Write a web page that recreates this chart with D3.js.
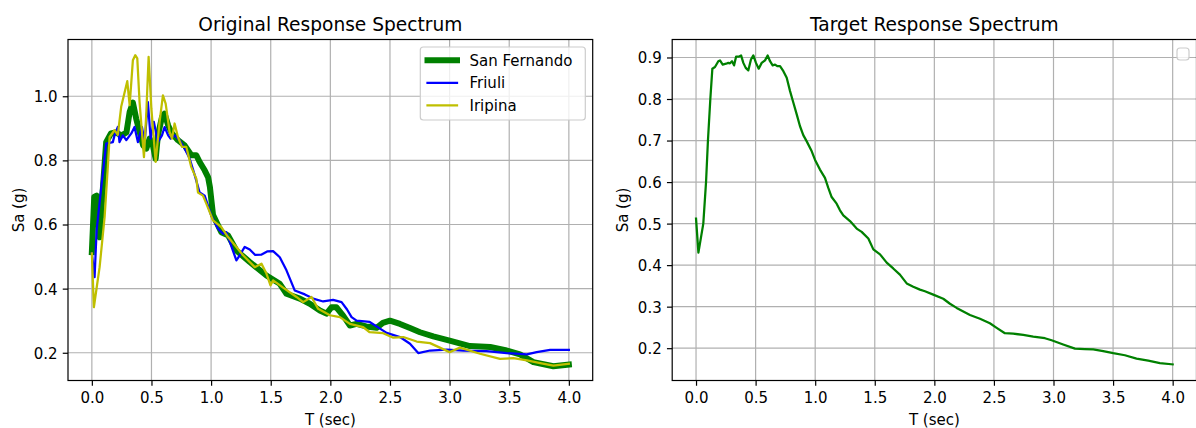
<!DOCTYPE html>
<html>
<head>
<meta charset="utf-8">
<script src="https://cdn.jsdelivr.net/npm/d3@7"></script>
<style>
  html, body { margin: 0; padding: 0; background: #ffffff; }
  svg { display: block; font-family: "DejaVu Sans", sans-serif; }
</style>
</head>
<body>
<svg id="chart" width="1196" height="428"></svg>
<script>
// ---------------- DATA ----------------
const xTicks = [0.0, 0.5, 1.0, 1.5, 2.0, 2.5, 3.0, 3.5, 4.0];
const yTicksLeft = [0.2, 0.4, 0.6, 0.8, 1.0];
const yTicksRight = [0.2, 0.3, 0.4, 0.5, 0.6, 0.7, 0.8, 0.9];
const seriesNames = ["San Fernando", "Friuli", "Iripina"];

// [T (sec), Sa (g)]
const sanFernando = [[0,0.514],[0.02,0.686],[0.04,0.69],[0.05,0.65],[0.065,0.56],[0.09,0.70],[0.12,0.857],[0.16,0.884],[0.2,0.887],[0.25,0.878],[0.29,0.887],[0.317,0.951],[0.344,0.98],[0.372,0.93],[0.40,0.889],[0.43,0.847],[0.457,0.837],[0.485,0.868],[0.512,0.847],[0.535,0.805],[0.554,0.878],[0.588,0.935],[0.61,0.946],[0.64,0.909],[0.672,0.884],[0.722,0.863],[0.778,0.847],[0.834,0.816],[0.876,0.816],[0.904,0.795],[0.946,0.769],[0.975,0.747],[0.99,0.717],[1.016,0.63],[1.086,0.576],[1.142,0.566],[1.212,0.519],[1.324,0.483],[1.464,0.441],[1.576,0.415],[1.632,0.384],[1.744,0.369],[1.828,0.353],[1.912,0.332],[1.968,0.322],[2.01,0.342],[2.05,0.342],[2.107,0.316],[2.164,0.285],[2.22,0.29],[2.30,0.282],[2.388,0.278],[2.44,0.293],[2.5,0.30],[2.584,0.29],[2.668,0.277],[2.752,0.264],[2.863,0.251],[3.0,0.238],[3.17,0.221],[3.34,0.218],[3.479,0.207],[3.59,0.195],[3.703,0.171],[3.87,0.158],[4.0,0.163]];

const friuli = [[0,0.51],[0.023,0.436],[0.04,0.582],[0.08,0.72],[0.12,0.852],[0.176,0.857],[0.19,0.878],[0.218,0.904],[0.232,0.857],[0.26,0.878],[0.289,0.863],[0.331,0.884],[0.358,0.904],[0.386,0.857],[0.42,0.904],[0.443,0.857],[0.47,0.982],[0.493,0.868],[0.52,0.92],[0.554,0.857],[0.588,0.878],[0.61,0.904],[0.64,0.878],[0.66,0.868],[0.694,0.878],[0.736,0.863],[0.778,0.837],[0.82,0.806],[0.862,0.755],[0.904,0.70],[0.946,0.69],[1.0,0.629],[1.058,0.587],[1.1,0.571],[1.128,0.576],[1.212,0.488],[1.24,0.504],[1.282,0.53],[1.324,0.522],[1.37,0.505],[1.42,0.506],[1.47,0.516],[1.52,0.517],[1.576,0.498],[1.632,0.457],[1.702,0.394],[1.786,0.382],[1.856,0.369],[1.94,0.36],[2.023,0.365],[2.094,0.358],[2.14,0.335],[2.178,0.311],[2.22,0.30],[2.33,0.296],[2.472,0.262],[2.584,0.249],[2.668,0.228],[2.737,0.199],[2.836,0.207],[2.976,0.21],[3.115,0.207],[3.31,0.205],[3.479,0.199],[3.648,0.195],[3.73,0.202],[3.843,0.209],[4.0,0.209]];

const iripina = [[0,0.51],[0.017,0.342],[0.065,0.467],[0.107,0.623],[0.134,0.78],[0.149,0.873],[0.19,0.894],[0.218,0.88],[0.246,0.967],[0.297,1.047],[0.317,0.972],[0.344,1.112],[0.364,1.128],[0.381,1.118],[0.40,0.982],[0.437,0.81],[0.457,0.951],[0.476,1.123],[0.499,0.962],[0.535,0.795],[0.568,0.92],[0.596,1.003],[0.619,0.977],[0.652,0.889],[0.672,0.868],[0.694,0.915],[0.722,0.873],[0.756,0.842],[0.792,0.842],[0.834,0.779],[0.876,0.743],[0.89,0.70],[0.932,0.69],[0.96,0.665],[1.016,0.613],[1.086,0.592],[1.142,0.561],[1.212,0.53],[1.268,0.504],[1.366,0.467],[1.422,0.478],[1.464,0.447],[1.498,0.41],[1.52,0.426],[1.604,0.403],[1.716,0.374],[1.772,0.358],[1.842,0.374],[1.898,0.337],[1.996,0.317],[2.08,0.311],[2.164,0.29],[2.275,0.28],[2.33,0.264],[2.443,0.261],[2.528,0.247],[2.612,0.249],[2.724,0.235],[2.836,0.23],[3.0,0.202],[3.087,0.216],[3.255,0.197],[3.423,0.181],[3.535,0.183],[3.648,0.176],[3.76,0.168],[3.87,0.16],[4.0,0.166]];

const target = [[0,0.512],[0.02,0.43],[0.061,0.5],[0.084,0.6],[0.10,0.7],[0.12,0.8],[0.137,0.873],[0.159,0.877],[0.187,0.891],[0.201,0.893],[0.224,0.883],[0.252,0.885],[0.271,0.887],[0.285,0.886],[0.302,0.891],[0.319,0.881],[0.336,0.902],[0.358,0.902],[0.378,0.905],[0.397,0.887],[0.417,0.875],[0.439,0.869],[0.461,0.895],[0.481,0.905],[0.503,0.887],[0.526,0.873],[0.551,0.887],[0.579,0.893],[0.601,0.905],[0.621,0.891],[0.643,0.881],[0.663,0.883],[0.682,0.879],[0.705,0.879],[0.733,0.867],[0.761,0.851],[0.789,0.819],[0.817,0.791],[0.845,0.763],[0.872,0.735],[0.90,0.713],[0.929,0.698],[0.971,0.674],[0.998,0.654],[1.04,0.630],[1.082,0.610],[1.11,0.586],[1.138,0.564],[1.18,0.548],[1.208,0.532],[1.236,0.520],[1.292,0.506],[1.348,0.488],[1.39,0.480],[1.446,0.464],[1.488,0.438],[1.544,0.426],[1.60,0.406],[1.655,0.392],[1.711,0.377],[1.768,0.356],[1.823,0.348],[1.879,0.341],[1.921,0.337],[1.991,0.329],[2.075,0.319],[2.131,0.307],[2.187,0.297],[2.299,0.280],[2.383,0.271],[2.466,0.260],[2.523,0.249],[2.592,0.236],[2.662,0.235],[2.746,0.232],[2.83,0.228],[2.928,0.224],[2.984,0.219],[3.081,0.209],[3.18,0.199],[3.263,0.198],[3.333,0.197],[3.417,0.193],[3.501,0.188],[3.599,0.183],[3.697,0.175],[3.795,0.170],[3.893,0.164],[4.0,0.161]];

// ---------------- LAYOUT ----------------
const svg = d3.select("#chart");
const FONT = 15;
const TICKLEN = 5.25, TICKPAD = 5.25;
const GRID = "#b0b0b0";

function panel(opts) {
  const {x0, x1, y0, y1, xDomain, yDomain, yTicks, yFmt, title, series, ylabelX} = opts;
  const x = d3.scaleLinear().domain(xDomain).range([x0, x1]);
  const y = d3.scaleLinear().domain(yDomain).range([y1, y0]);
  const g = svg.append("g");

  // grid
  g.append("g").selectAll("line").data(xTicks).join("line")
    .attr("x1", d => x(d)).attr("x2", d => x(d)).attr("y1", y0).attr("y2", y1)
    .attr("stroke", GRID).attr("stroke-width", 1.2);
  g.append("g").selectAll("line").data(yTicks).join("line")
    .attr("y1", d => y(d)).attr("y2", d => y(d)).attr("x1", x0).attr("x2", x1)
    .attr("stroke", GRID).attr("stroke-width", 1.2);

  // series
  const line = d3.line().x(d => x(d[0])).y(d => y(d[1]));
  series.forEach(s => {
    g.append("path").datum(s.data).attr("d", line)
      .attr("fill", "none").attr("stroke", s.color).attr("stroke-width", s.width)
      .attr("stroke-linejoin", "round").attr("stroke-linecap", "square");
  });

  // axes
  const xAxis = d3.axisBottom(x).tickValues(xTicks).tickFormat(d3.format(".1f"))
    .tickSize(TICKLEN).tickPadding(TICKPAD);
  const gx = g.append("g").attr("transform", `translate(0,${y1})`).call(xAxis);
  gx.select(".domain").remove();
  gx.selectAll(".tick line").attr("stroke", "#000").attr("stroke-width", 1.2);
  gx.selectAll(".tick text").attr("font-size", FONT).attr("fill", "#000")
    .attr("font-family", "DejaVu Sans").attr("dy", null).attr("y", 22.5);

  const yAxis = d3.axisLeft(y).tickValues(yTicks).tickFormat(d3.format(yFmt))
    .tickSize(TICKLEN).tickPadding(TICKPAD);
  const gy = g.append("g").attr("transform", `translate(${x0},0)`).call(yAxis);
  gy.select(".domain").remove();
  gy.selectAll(".tick line").attr("stroke", "#000").attr("stroke-width", 1.2);
  gy.selectAll(".tick text").attr("font-size", FONT).attr("fill", "#000")
    .attr("font-family", "DejaVu Sans").attr("dy", "0.36em");

  // spines
  g.append("rect").attr("x", x0).attr("y", y0).attr("width", x1 - x0).attr("height", y1 - y0)
    .attr("fill", "none").attr("stroke", "#000").attr("stroke-width", 1.2);

  // title and labels
  g.append("text").attr("x", (x0 + x1) / 2).attr("y", y0 - 9)
    .attr("text-anchor", "middle").attr("font-size", 18.6).attr("fill", "#000").text(title);
  g.append("text").attr("x", (x0 + x1) / 2).attr("y", 425)
    .attr("text-anchor", "middle").attr("font-size", FONT).attr("fill", "#000").text("T (sec)");
  g.append("text").attr("transform", `translate(${ylabelX},${(y0 + y1) / 2}) rotate(-90)`)
    .attr("text-anchor", "middle").attr("font-size", FONT).attr("fill", "#000").text("Sa (g)");

  return {x, y, g};
}

const TOP = 39.5, BOTTOM = 380.5;

const left = panel({
  x0: 68, x1: 592.7, y0: TOP, y1: BOTTOM,
  xDomain: [-0.2, 4.2], yDomain: [0.1135, 1.177],
  yTicks: yTicksLeft, yFmt: ".1f", title: "Original Response Spectrum",
  ylabelX: 24,
  series: [
    {data: sanFernando, color: "#008000", width: 6},
    {data: friuli, color: "#0000ff", width: 2.25},
    {data: iripina, color: "#bfbf00", width: 2.25}
  ]
});

const right = panel({
  x0: 672.2, x1: 1196.5, y0: TOP, y1: BOTTOM,
  xDomain: [-0.2, 4.2], yDomain: [0.1222, 0.9433],
  yTicks: yTicksRight, yFmt: ".1f", title: "Target Response Spectrum",
  ylabelX: 628,
  series: [
    {data: target, color: "#008000", width: 2.25}
  ]
});

// legend (left)
const legendColors = ["#008000", "#0000ff", "#bfbf00"];
const legendWidths = [6, 2.25, 2.25];
const lg = svg.append("g");
lg.append("rect").attr("x", 420.3).attr("y", 47).attr("width", 165).attr("height", 73)
  .attr("rx", 3).attr("fill", "#ffffff").attr("fill-opacity", 0.8)
  .attr("stroke", "#cccccc").attr("stroke-width", 1.2);
seriesNames.forEach((name, i) => {
  const cy = 60.3 + i * 22.5;
  lg.append("line").attr("x1", 427.5).attr("x2", 457).attr("y1", cy).attr("y2", cy)
    .attr("stroke", legendColors[i]).attr("stroke-width", legendWidths[i]).attr("stroke-linecap", "square");
  lg.append("text").attr("x", 469.5).attr("y", cy + 5.4).attr("font-size", FONT).attr("fill", "#000").text(name);
});

// empty legend (right)
svg.append("rect").attr("x", 1177).attr("y", 48).attr("width", 12).attr("height", 12)
  .attr("rx", 3).attr("fill", "#ffffff").attr("fill-opacity", 0.8)
  .attr("stroke", "#cccccc").attr("stroke-width", 1.2);
</script>
</body>
</html>
